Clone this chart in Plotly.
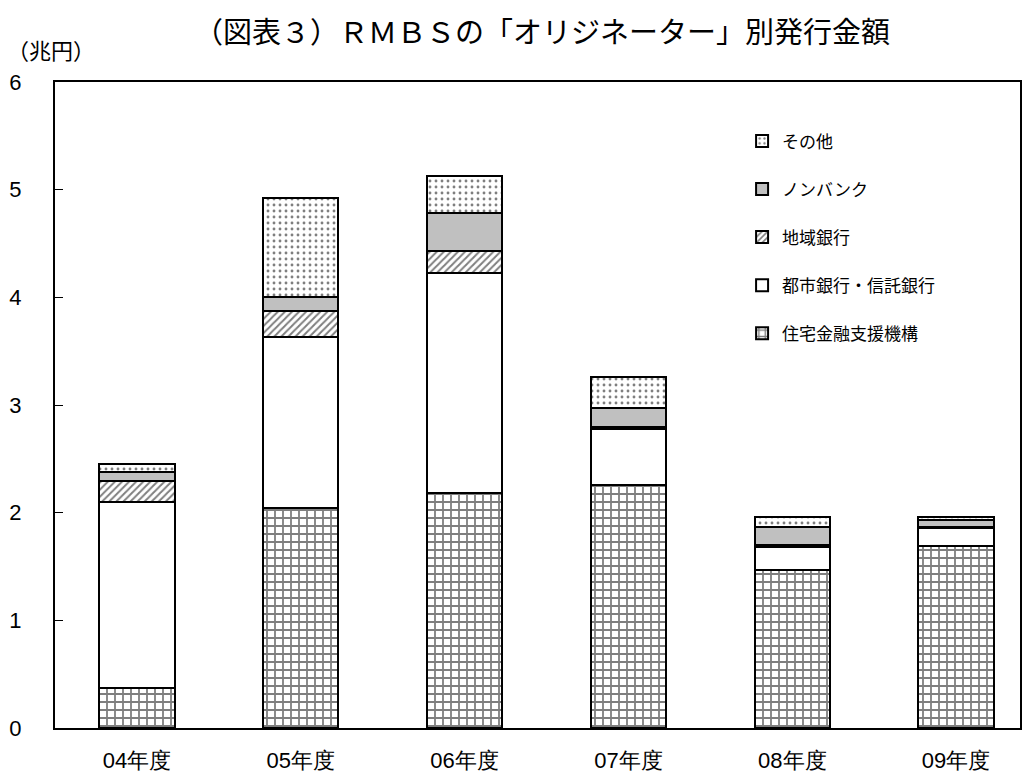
import plotly.graph_objects as go

years = ["04年度", "05年度", "06年度", "07年度", "08年度", "09年度"]
housing = [0.37, 2.04, 2.18, 2.26, 1.47, 1.69]   # 住宅金融支援機構
urban = [1.73, 1.59, 2.05, 0.52, 0.21, 0.17]     # 都市銀行・信託銀行
regional = [0.19, 0.24, 0.20, 0.02, 0.02, 0.01]  # 地域銀行
nonbank = [0.09, 0.13, 0.35, 0.17, 0.17, 0.06]   # ノンバンク
other = [0.07, 0.92, 0.35, 0.29, 0.09, 0.03]     # その他

series_names = ["住宅金融支援機構", "都市銀行・信託銀行", "地域銀行", "ノンバンク", "その他"]
yticks = [0, 1, 2, 3, 4, 5, 6]

FONT = "Noto Sans CJK JP"

styles = [
    dict(color="white", pattern=dict(shape="+", fgcolor="black", bgcolor="white", size=8, solidity=0.4, fillmode="overlay")),
    dict(color="white"),
    dict(color="white", pattern=dict(shape="/", fgcolor="black", bgcolor="white", size=5, solidity=0.4, fillmode="overlay")),
    dict(color="#C0C0C0"),
    dict(color="white", pattern=dict(shape=".", fgcolor="black", bgcolor="white", size=6, solidity=0.18, fillmode="overlay")),
]

fig = go.Figure()
n = len(series_names)
for i, (name, vals) in enumerate(zip(series_names, [housing, urban, regional, nonbank, other])):
    st = styles[i]
    marker = dict(color=st["color"], line=dict(color="black", width=2))
    if "pattern" in st:
        marker["pattern"] = st["pattern"]
    fig.add_trace(go.Bar(
        x=years, y=vals, name=name, marker=marker, width=0.46,
        legendgroup=name, legendrank=(n - i) * 100,
    ))

W, H = 1027, 771
fig.update_layout(
    barmode="stack",
    width=W, height=H,
    margin=dict(l=47, r=15, t=74, b=51, autoexpand=False),
    paper_bgcolor="white", plot_bgcolor="white",
    font=dict(family=FONT, color="black"),
    title=dict(text="（図表３）ＲＭＢＳの「オリジネーター」別発行金額",
               x=0.52, xanchor="center", xref="container",
               y=1 - 25 / H, yanchor="middle", yref="container",
               font=dict(size=29, family=FONT, color="black")),
    showlegend=True,
    legend=dict(x=0.712, y=0.936, xanchor="left", yanchor="top",
                traceorder="grouped", tracegroupgap=23,
                font=dict(size=17, family=FONT, color="black"),
                bgcolor="rgba(0,0,0,0)", itemwidth=30),
    xaxis=dict(range=[-0.5, 5.39], showline=True, linecolor="black", linewidth=2,
               mirror=True, ticks="", tickfont=dict(size=22, family="Liberation Sans"),
               ticklabelstandoff=12, showgrid=False, automargin=False),
    yaxis=dict(range=[0, 6], tickvals=yticks, showline=True, linecolor="black",
               linewidth=2, mirror=True, ticks="inside", ticklen=8, tickcolor="black",
               tickfont=dict(size=22, family="Liberation Sans"), showgrid=False,
               zeroline=False, ticklabelstandoff=27, automargin=False),
    annotations=[dict(text="（兆円）", xref="paper", yref="paper", x=0, y=1,
                      xshift=-50, yshift=33, xanchor="left", yanchor="middle",
                      showarrow=False, font=dict(size=22, family=FONT, color="black"))],
)

fig.write_html("out.html")
